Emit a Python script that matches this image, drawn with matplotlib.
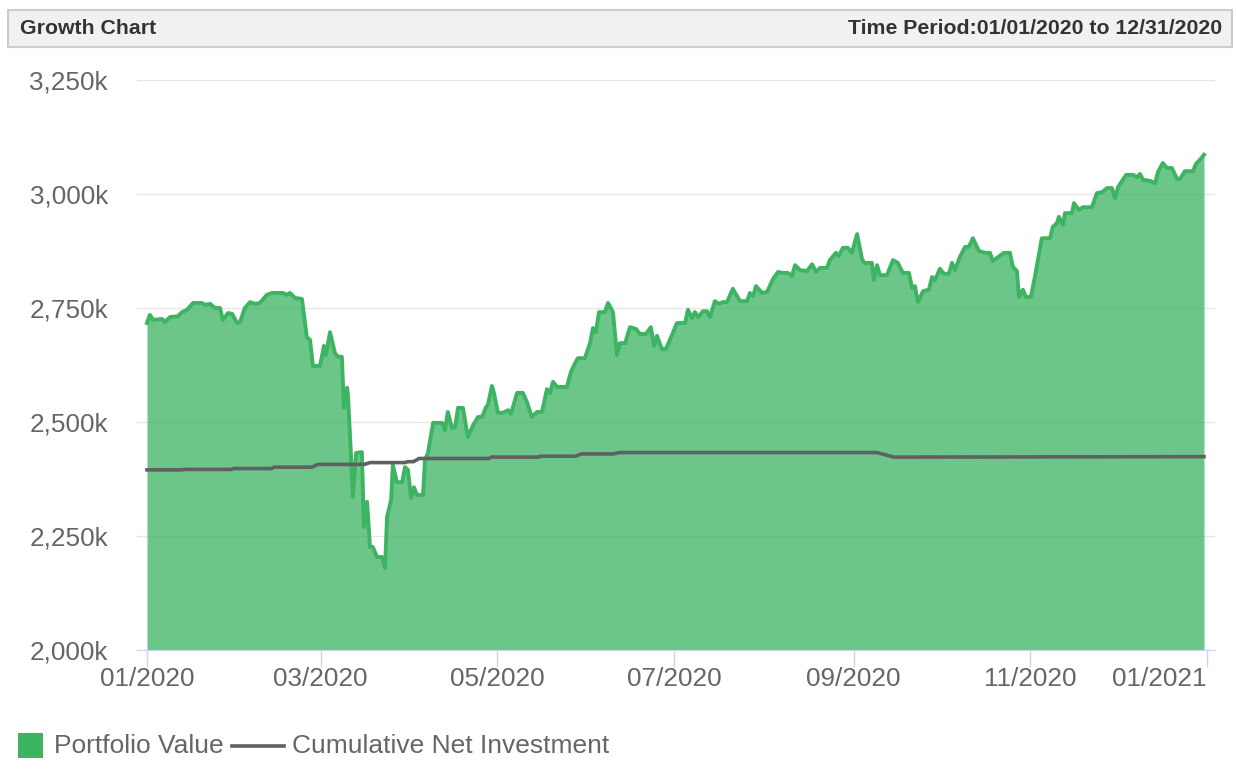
import matplotlib
matplotlib.use('Agg')
import matplotlib.pyplot as plt
from matplotlib.patches import Rectangle
from matplotlib.lines import Line2D

plt.rcParams['font.family'] = ['Liberation Sans', 'DejaVu Sans']

# days since 01/01/2020 and portfolio value (thousands)
days = [0.0, 1.0, 2.1, 5.2, 6.2, 7.9, 10.7, 12.1, 13.8, 15.9, 19.0, 20.0, 21.8, 23.5, 25.2,
        26.2, 28.0, 29.4, 31.1, 32.1, 33.8, 35.6, 37.3, 39.0, 41.4, 43.2, 44.9, 47.0, 48.3,
        49.4, 51.1, 53.5, 55.2, 56.3, 57.3, 59.7, 60.4, 61.1, 61.8, 63.2, 64.9, 66.0, 67.3,
        68.0, 69.1, 69.4, 70.4, 71.1, 72.2, 74.2, 74.9, 76.0, 77.0, 78.0, 79.4, 81.1, 82.2,
        82.9, 84.3, 84.9, 86.3, 88.1, 89.1, 90.1, 91.2, 92.2, 93.2, 95.3, 96.0, 97.0, 98.8,
        101.9, 102.9, 103.9, 105.3, 106.4, 107.4, 109.1, 110.8, 112.6, 114.3, 115.7, 117.1,
        117.7, 119.1, 119.8, 121.2, 122.9, 124.7, 125.7, 127.8, 129.8, 131.2, 132.9, 134.7,
        136.4, 138.1, 139.2, 140.2, 141.6, 145.0, 146.4, 147.8, 148.8, 151.2, 153.0, 154.0,
        155.0, 156.1, 158.1, 159.2, 160.9, 162.3, 163.3, 165.1, 166.8, 168.9, 170.2, 172.3,
        174.0, 175.1, 176.1, 177.8, 179.2, 181.3, 183.0, 185.8, 186.8, 188.2, 189.2, 190.3,
        192.0, 193.4, 194.4, 196.1, 197.5, 198.9, 200.3, 202.3, 204.8, 207.2, 208.2, 209.3,
        210.3, 212.4, 214.1, 216.2, 217.9, 219.6, 221.3, 222.7, 223.8, 225.5, 227.9, 229.7,
        231.0, 232.4, 234.8, 235.8, 237.9, 238.9, 240.3, 242.0, 243.4, 245.2, 246.9, 247.6,
        250.3, 251.0, 252.1, 253.1, 255.5, 257.6, 259.3, 261.0, 263.1, 264.2, 265.2, 266.2,
        268.0, 270.0, 271.1, 272.1, 273.8, 275.2, 276.9, 278.0, 279.0, 280.7, 282.5, 283.8,
        285.2, 287.3, 289.4, 291.1, 292.1, 293.5, 295.9, 298.0, 299.0, 300.4, 301.1, 302.5,
        303.5, 305.2, 306.6, 309.0, 311.8, 312.8, 314.2, 314.9, 316.3, 317.0, 319.4, 320.1,
        321.8, 323.2, 326.3, 328.0, 329.8, 331.5, 333.2, 334.3, 335.3, 338.1, 340.5, 341.8,
        342.9, 343.9, 346.3, 348.1, 349.1, 350.8, 352.2, 353.9, 355.7, 356.7, 358.4, 361.2,
        362.2, 363.6, 365.0]
portfolio = [2717, 2735, 2724, 2726, 2719, 2730, 2732, 2741, 2746, 2761, 2761, 2757, 2759, 2750, 2750,
             2724, 2739, 2737, 2717, 2719, 2750, 2763, 2759, 2761, 2779, 2783, 2783, 2783, 2779,
             2783, 2772, 2770, 2686, 2680, 2623, 2623, 2643, 2667, 2647, 2697, 2651, 2643, 2643,
             2531, 2575, 2559, 2432, 2336, 2432, 2434, 2270, 2325, 2226, 2226, 2204, 2204, 2180,
             2292, 2329, 2406, 2368, 2368, 2401, 2395, 2333, 2357, 2340, 2340, 2417, 2432, 2498,
             2498, 2482, 2522, 2487, 2489, 2531, 2531, 2467, 2493, 2511, 2511, 2533,
             2537, 2579, 2564, 2520, 2520, 2526, 2518, 2564, 2564, 2544, 2511, 2522,
             2522, 2572, 2564, 2588, 2577, 2577, 2610, 2629, 2640, 2640, 2673, 2706,
             2697, 2741, 2741, 2761, 2741, 2647, 2673, 2673, 2708, 2704, 2693, 2693,
             2708, 2667, 2689, 2660, 2660, 2691, 2717, 2717, 2746, 2728, 2741, 2730,
             2743, 2743, 2730, 2765, 2759, 2763, 2763, 2792, 2765, 2765, 2783, 2776,
             2798, 2783, 2785, 2814, 2829, 2827, 2827, 2820, 2844, 2833, 2831, 2846,
             2829, 2838, 2838, 2855, 2871, 2864, 2882, 2882, 2871, 2912, 2858, 2849,
             2849, 2811, 2844, 2822, 2822, 2855, 2849, 2827, 2827, 2794, 2798, 2763,
             2787, 2790, 2818, 2811, 2836, 2825, 2825, 2849, 2833, 2862, 2884, 2884,
             2903, 2875, 2871, 2871, 2853, 2860, 2871, 2871, 2840, 2831, 2774, 2790,
             2774, 2774, 2818, 2903, 2903, 2928, 2936, 2950, 2932, 2958, 2958, 2980,
             2965, 2971, 2971, 3002, 3004, 3013, 3013, 2991, 3015, 3042, 3042, 3037,
             3044, 3031, 3029, 3024, 3048, 3068, 3057, 3057, 3033, 3033, 3050, 3050,
             3066, 3075, 3086]

# cumulative net investment (thousands)
inv_days = [0, 12, 13, 29, 30, 43, 44, 57, 59, 75, 77, 89, 90, 92, 94, 118, 119, 135, 136,
            148, 150, 161, 163, 252, 258, 365]
investment = [2395, 2395, 2396, 2396, 2398, 2398, 2401, 2401, 2407, 2407, 2411, 2411, 2413, 2413,
              2420, 2420, 2423, 2423, 2425, 2425, 2430, 2430, 2433, 2433, 2423, 2424]

yticks = [2000, 2250, 2500, 2750, 3000, 3250]
xtick_days = [0, 60, 121, 182, 244, 305, 366]
xtick_labels = ['01/2020', '03/2020', '05/2020', '07/2020', '09/2020', '11/2020', '01/2021']

W, H = 1236, 769
fig = plt.figure(figsize=(W / 100, H / 100), dpi=100)

# header bar
fig.add_artist(Rectangle((8 / W, 1 - 47 / H), 1224 / W, 37 / H, transform=fig.transFigure,
                         facecolor='#f1f1f1', edgecolor='#cccccc', lw=1.5))
fig.text(20 / W, 1 - 29 / H, 'Growth Chart', fontsize=15.3, fontweight='bold',
         color='#333333', ha='left', va='center')
fig.text(1222 / W, 1 - 29 / H, 'Time Period:01/01/2020 to 12/31/2020', fontsize=15.3,
         fontweight='bold', color='#333333', ha='right', va='center')

ax = fig.add_axes([137 / W, 1 - 650 / H, (1215 - 137) / W, 570 / H])
ax.fill_between(days, portfolio, 2000, color='#3cb462', alpha=0.75, lw=0, zorder=2)
ax.plot(days, portfolio, color='#3cb462', lw=2.8, zorder=3, solid_joinstyle='round')
ax.plot(inv_days, investment, color='#606060', lw=2.6, zorder=4)

ax.set_xlim(-3.45, 368.8)
ax.set_ylim(2000, 3250)
ax.set_yticks(yticks)
ax.set_yticklabels(['{:,}k'.format(v) for v in yticks])
ax.set_xticks(xtick_days)
ax.set_xticklabels(xtick_labels)
ax.get_xticklabels()[-1].set_horizontalalignment('right')
ax.grid(axis='y', color='#e6e6e6', lw=1)
ax.set_axisbelow(True)
for s in ['top', 'right', 'left']:
    ax.spines[s].set_visible(False)
ax.spines['bottom'].set_color('#ccd6eb')
ax.tick_params(axis='y', length=0, pad=21, labelsize=18.8, labelcolor='#666666')
ax.tick_params(axis='x', length=12, width=1, color='#ccd6eb', pad=0,
               labelsize=18.8, labelcolor='#666666')

# legend
fig.add_artist(Rectangle((18 / W, 1 - 758 / H), 25 / W, 25 / H, transform=fig.transFigure,
                         facecolor='#3cb462', edgecolor='none'))
fig.text(54 / W, 1 - 746 / H, 'Portfolio Value', fontsize=19, color='#666666',
         ha='left', va='center')
fig.add_artist(Line2D([232 / W, 284 / W], [1 - 746 / H, 1 - 746 / H], transform=fig.transFigure,
                      color='#606060', lw=2.6))
fig.text(292 / W, 1 - 746 / H, 'Cumulative Net Investment', fontsize=19, color='#666666',
         ha='left', va='center')

fig.savefig('out.png', dpi=100)
